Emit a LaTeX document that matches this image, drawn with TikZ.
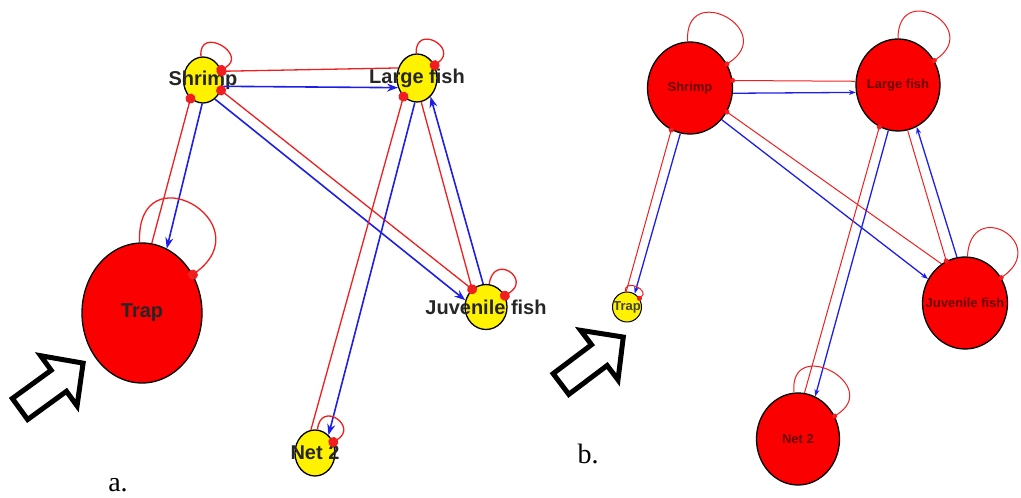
\documentclass[tikz,border=0pt]{standalone}
\usepackage{fontspec}
\setmainfont{Liberation Serif}
\setsansfont{Liberation Sans}
\usetikzlibrary{shapes.geometric,arrows.meta}

\definecolor{edgeblue}{RGB}{30,30,230}
\definecolor{edgered}{RGB}{240,30,30}
\definecolor{nodered}{RGB}{250,0,0}
\definecolor{darktext}{RGB}{105,0,0}

\begin{document}
\begin{tikzpicture}[
  x=1pt,
  y=1pt,
  small/.style={ellipse, draw=black, line width=1.3pt, fill=yellow, inner sep=0pt},
  big/.style={ellipse, draw=black, line width=1.3pt, fill=nodered, inner sep=0pt},
  lbla/.style={font=\sffamily\bfseries\fontsize{20}{20}\selectfont, text=black!85},
  lblb/.style={font=\sffamily\bfseries\fontsize{13}{13}\selectfont, text=darktext},
  reda/.style={edgered, line width=1.3pt, -{Circle[length=10pt]}, shorten >=-5pt},
  bluea/.style={edgeblue, line width=1.6pt, -{Stealth[length=11pt,width=8pt]}},
  redb/.style={edgered, line width=1pt, -{Circle[length=5pt]}, shorten >=-2.5pt},
  blueb/.style={edgeblue, line width=1.3pt, -{Stealth[length=7pt,width=5pt]}},
  hollow/.style={draw=black, line width=5pt, fill=white, line join=miter},
  panel/.style={font=\fontsize{28}{28}\selectfont},
]
  \useasboundingbox (0,0) rectangle (1021,498);

  % panel a
  \node[small, minimum width=39pt, minimum height=46pt, label={[lbla]center:Shrimp}] (sa) at (203,418) {};
  \node[small, minimum width=40pt, minimum height=48pt, label={[lbla]center:Large fish}] (la) at (417,420) {};
  \node[small, minimum width=42pt, minimum height=45pt, label={[lbla]center:Juvenile fish}] (ja) at (486,191) {};
  \node[small, minimum width=40pt, minimum height=46pt, label={[lbla]center:Net 2}] (na) at (315,45) {};
  \node[big, minimum width=120pt, minimum height=140pt, label={[lbla]center:Trap}] (ta) at (142,185) {};

  \draw[reda] (la.152) -- (sa.25);
  \draw[bluea] (sa.-18) -- (la.207);
  \draw[reda] (ta.82) -- (sa.236);
  \draw[bluea] (sa.268) -- (ta.69);
  \draw[bluea] (sa.302) -- (ja.162);
  \draw[reda] (ja.128) -- (sa.-30);
  \draw[reda] (la.280) -- (ja.128);
  \draw[bluea] (ja.97) -- (la.306);
  \draw[reda] (na.100) -- (la.234);
  \draw[bluea] (la.265) -- (na.53);

  \draw[reda] (sa.95) .. controls +(95:32) and +(29:32) .. (sa.29);
  \draw[reda] (la.92) .. controls +(92:30) and +(36:30) .. (la.36);
  \draw[reda] (ja.82) .. controls +(82:32) and +(31:32) .. (ja.31);
  \draw[reda] (na.84) .. controls +(84:30) and +(31:30) .. (na.31);
  \draw[reda] (ta.92) .. controls +(92:92) and +(37:88) .. (ta.37);

  % panel b
  \node[big, minimum width=85pt, minimum height=92pt, label={[lblb]center:Shrimp}] (sb) at (690,410) {};
  \node[big, minimum width=84pt, minimum height=92pt, label={[lblb]center:Large fish}] (lb) at (898,413) {};
  \node[big, minimum width=85pt, minimum height=92pt, label={[lblb]center:Juvenile fish}] (jb) at (965,195) {};
  \node[big, minimum width=83pt, minimum height=92pt, label={[lblb]center:Net 2}] (nb) at (798,59) {};
  \node[small, line width=1pt, minimum width=29pt, minimum height=30pt, label={[lblb, text=black!85!yellow]center:Trap}] (tb) at (627,191) {};

  \draw[redb] (lb.175) -- (sb.10);
  \draw[blueb] (sb.-7) -- (lb.190);
  \draw[redb] (tb.93) -- (sb.246);
  \draw[blueb] (sb.258) -- (tb.60);
  \draw[blueb] (sb.315) -- (jb.147);
  \draw[redb] (jb.121) -- (sb.327);
  \draw[redb] (nb.82) -- (lb.246);
  \draw[blueb] (lb.258) -- (nb.68);
  \draw[redb] (lb.282) -- (jb.114);
  \draw[blueb] (jb.100) -- (lb.294);

  \draw[redb] (sb.93) .. controls +(93:62) and +(33:62) .. (sb.33);
  \draw[redb] (lb.90) .. controls +(90:58) and +(34:58) .. (lb.34);
  \draw[redb] (jb.87) .. controls +(87:60) and +(35:60) .. (jb.35);
  \draw[redb] (nb.95) .. controls +(95:58) and +(32:58) .. (nb.32);
  \draw[redb] (tb.96) .. controls +(96:14) and +(35:14) .. (tb.35);

  % pointers and captions
  \foreach \ax/\ay/\ang in {20/89/36, 561/114/37}
    \draw[hollow, shift={(\ax,\ay)}, rotate=\ang]
      (0,-13) -- (48,-13) -- (48,-31) -- (78,0) -- (48,31) -- (48,13) -- (0,13) -- cycle;

  \node[panel] (capa) at (118,13) {a.};
  \node[panel] (capb) at (588,44) {b.};
\end{tikzpicture}
\end{document}
